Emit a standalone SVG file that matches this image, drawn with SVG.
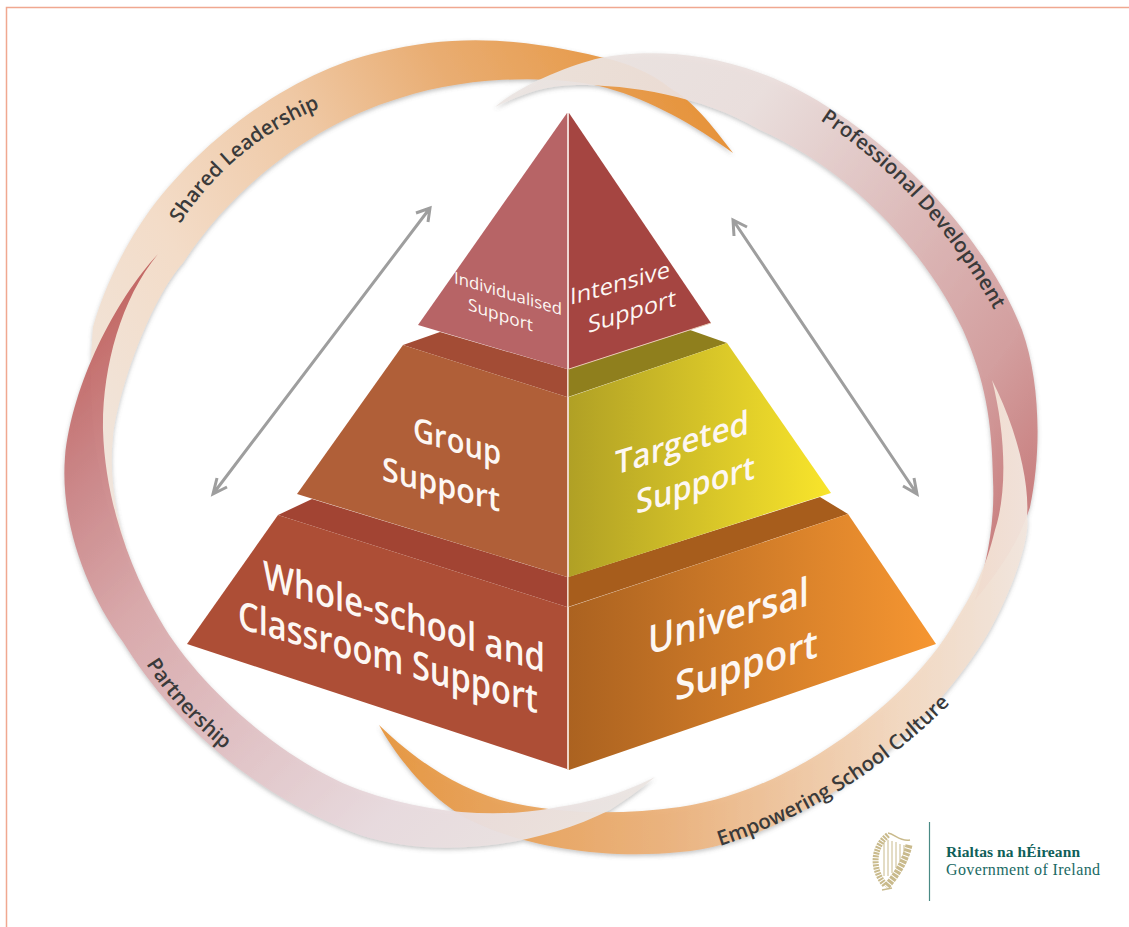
<svg xmlns="http://www.w3.org/2000/svg" xmlns:xlink="http://www.w3.org/1999/xlink" width="1129" height="927" viewBox="0 0 1129 927">
<style>
.rim{font-family:"Open Sans","Noto Sans",sans-serif;font-size:20.500px;font-weight:600;fill:#3a3a3a}
.pt{font-family:"Open Sans","Noto Sans",sans-serif;fill:#fdf7f3;font-weight:600}
.thin{font-weight:500}
.arrow{fill:none;stroke:#9e9e9e;stroke-width:3}
.harp{fill:none;stroke:#c9ba8c}
</style>
<defs>
<filter id="sh" x="-5%" y="-5%" width="110%" height="110%"><feDropShadow dx="0" dy="2" stdDeviation="2" flood-color="#666" flood-opacity=".4"/></filter>
<linearGradient id="gA" gradientUnits="userSpaceOnUse" x1="733" y1="153" x2="110" y2="500"><stop offset="0" stop-color="#e6933a"/><stop offset=".3" stop-color="#e9ad72"/><stop offset=".5" stop-color="#efc8a4"/><stop offset=".75" stop-color="#f3dcc8"/><stop offset="1" stop-color="#f0e5dc"/></linearGradient>
<linearGradient id="gB" gradientUnits="userSpaceOnUse" x1="158" y1="254" x2="655" y2="777"><stop offset="0" stop-color="#c0625f"/><stop offset=".16" stop-color="#cb8587"/><stop offset=".34" stop-color="#d9a8aa"/><stop offset=".78" stop-color="#e8dade"/><stop offset="1" stop-color="#ebe5e2"/></linearGradient>
<linearGradient id="gC" gradientUnits="userSpaceOnUse" x1="495" y1="107" x2="1030" y2="500"><stop offset="0" stop-color="#ebe5e2"/><stop offset=".31" stop-color="#ebdfdd"/><stop offset=".83" stop-color="#d39c9c"/><stop offset="1" stop-color="#c87a7a"/></linearGradient>
<linearGradient id="gD" gradientUnits="userSpaceOnUse" x1="379" y1="0" x2="1030" y2="0"><stop offset="0" stop-color="#e6953c"/><stop offset=".45" stop-color="#ebb27c"/><stop offset=".8" stop-color="#f3d8c0"/><stop offset="1" stop-color="#f2e6de"/></linearGradient>
<linearGradient id="gY" gradientUnits="userSpaceOnUse" x1="568" y1="0" x2="831" y2="0"><stop offset="0" stop-color="#b0a025"/><stop offset="1" stop-color="#f9e52b"/></linearGradient>
<linearGradient id="gO" gradientUnits="userSpaceOnUse" x1="568" y1="0" x2="936" y2="0"><stop offset="0" stop-color="#ab6220"/><stop offset="1" stop-color="#f69631"/></linearGradient>
<path id="p1" d="M180,224 Q235,140 330,104"/>
<path id="p2" d="M820,120 Q935,195 1005,330"/>
<path id="p3" d="M146,664 Q178,714 232,756"/>
<path id="p4" d="M720,846 Q860,800 965,688"/>
</defs>
<rect width="1129" height="927" fill="#fff"/>
<path d="M6.500,927V7.500H1129" fill="none" stroke="#f0a890" stroke-width="1.500"/>
<g id="ribbons" filter="url(#sh)">
<path id="ribbon-a" fill="url(#gA)" d="M733,153 C712,125 692,100 670,88 C650,72 625,62 600,57 C530,40 460,32 380,52 C300,70 210,130 150,210 C125,245 105,285 93,327 C85,420 100,510 137,578 C118,530 108,480 113,437 C118,390 150,300 183,263 C230,190 310,125 400,98 C470,75 560,75 607,88 C650,100 695,125 733,153Z"/>
<path id="ribbon-c" fill="url(#gC)" fill-opacity=".93" d="M495,107 C520,85 570,65 600,58 C640,50 700,50 760,73 C850,105 975,210 1022,330 C1040,380 1042,450 1030,507 C1020,540 1000,570 975,600 C988,560 995,520 993,480 C992,420 985,380 963,330 C925,250 850,170 760,130 C700,95 630,85 577,85 C545,85 520,95 495,107Z"/>
<path id="ribbon-d" fill="url(#gD)" fill-opacity=".95" d="M379,725 C395,755 430,800 470,820 C520,845 600,860 680,852 C780,845 920,750 990,630 C1020,575 1030,530 1027,517 C1030,480 1015,425 992,380 C1005,430 1008,490 995,530 C985,570 975,590 950,630 C910,695 800,790 680,807 C620,815 560,815 500,800 C450,785 410,755 379,725Z"/>
<path id="ribbon-b" fill="url(#gB)" fill-opacity=".95" d="M158,254 C115,300 72,385 65,457 C60,520 85,590 123,642 C165,710 240,790 360,835 C430,858 530,850 610,810 C625,800 640,790 655,777 C620,795 590,802 553,808 C500,818 430,815 360,790 C290,765 200,690 160,620 C130,570 105,500 103,430 C102,370 120,300 158,254Z"/>
</g>
<g id="rim-labels">
<text class="rim"><textPath href="#p1" xlink:href="#p1">Shared Leadership</textPath></text>
<text class="rim"><textPath href="#p2" xlink:href="#p2">Professional Development</textPath></text>
<text class="rim"><textPath href="#p3" xlink:href="#p3">Partnership</textPath></text>
<text class="rim"><textPath href="#p4" xlink:href="#p4">Empowering School Culture</textPath></text>
</g>
<g id="connectors">
<path class="arrow" d="M430,208L213,494M416,213L430,208L428,222M217,478L213,494L227,487"/>
<path class="arrow" d="M733,220L917,494M747,227L733,220L734,236M914,478L917,494L903,486"/>
</g>
<g id="tier-bottom">
<path fill="#a24433" d="M278,515L312,499L567,577V607Z"/>
<path fill="#a75d1c" d="M568,607V577L820,497L848,514Z"/>
<path fill="#ad4e36" d="M278,515L567,607V769L187,644Z"/>
<path fill="url(#gO)" d="M569,607L848,514L936,644L569,770Z"/>
<path d="M568,577V770" stroke="#e9c9b4" stroke-width="1.500"/>
<text class="pt" font-size="39" textLength="282" lengthAdjust="spacingAndGlyphs" transform="matrix(1,.3,0,1,263,588)">Whole-school and</text>
<text class="pt" font-size="39" textLength="300" lengthAdjust="spacingAndGlyphs" transform="matrix(1,.285,0,1,238,628)">Classroom Support</text>
<text class="pt" font-size="40" textLength="161" lengthAdjust="spacingAndGlyphs" transform="matrix(1,-.31,0,1,648,655)">Universal</text>
<text class="pt" font-size="40" textLength="143" lengthAdjust="spacingAndGlyphs" transform="matrix(1,-.31,0,1,675,701)">Support</text>
</g>
<g id="tier-middle">
<path fill="#a34c35" d="M403,345L440,332L567,369V397Z"/>
<path fill="#8f7f1d" d="M568,397V369L690,330L727,343Z"/>
<path fill="#b05f38" d="M403,345L567,397V577L297,494Z"/>
<path fill="url(#gY)" d="M569,397L727,343L831,493L569,577Z"/>
<path d="M568,369V577" stroke="#e9c9b4" stroke-width="1.500"/>
<text class="pt" font-size="33" textLength="88" lengthAdjust="spacingAndGlyphs" transform="matrix(1,.29,0,1,413,440)">Group</text>
<text class="pt" font-size="33" textLength="118" lengthAdjust="spacingAndGlyphs" transform="matrix(1,.27,0,1,382,480)">Support</text>
<text class="pt" font-size="33" textLength="134" lengthAdjust="spacingAndGlyphs" transform="matrix(1,-.31,0,1,615,475)">Targeted</text>
<text class="pt" font-size="33" textLength="119" lengthAdjust="spacingAndGlyphs" transform="matrix(1,-.3,0,1,636,514)">Support</text>
</g>
<g id="tier-top">
<path fill="#b76466" d="M567,113V369L418,325Z"/>
<path fill="#a54541" d="M569,113L711,323L569,369Z"/>
<path d="M568,113V369" stroke="#e9c9c4" stroke-width="1.500"/>
<path d="M569,369L711,323" stroke="#e9c9b4" fill="none"/>
<text class="pt thin" font-size="16.500" textLength="108" lengthAdjust="spacingAndGlyphs" transform="matrix(1,.3,0,1,454,283)">Individualised</text>
<text class="pt thin" font-size="17" textLength="65" lengthAdjust="spacingAndGlyphs" transform="matrix(1,.33,0,1,468,310)">Support</text>
<text class="pt thin" font-size="23" textLength="100" lengthAdjust="spacingAndGlyphs" transform="matrix(1,-.28,0,1,570,305)">Intensive</text>
<text class="pt thin" font-size="23" textLength="88" lengthAdjust="spacingAndGlyphs" transform="matrix(1,-.31,0,1,588,333)">Support</text>
</g>
<g id="government-logo">
<g class="harp">
<path stroke-width="6" stroke-dasharray="2 1" d="M885,885C872,870 872,848 888,835"/>
<path stroke-width="1.500" d="M888,833C895,834 900,842 910,840"/>
<path stroke-width="7" stroke-dasharray="3 1" d="M909,845C905,862 896,876 886,887"/>
<path stroke-width="1.500" d="M882,890L892,888"/>
<path stroke-width="1" d="M884,842V876M888,840V876M892,841V873M896,842V868M900,844V862M904,845V855"/>
</g>
<path d="M929.500,822V901" stroke="#4a8a85" stroke-width="1.200"/>
<text x="946" y="857" textLength="134" font-family="'Liberation Serif',serif" font-size="15.500" font-weight="700" fill="#0f5f5a">Rialtas na hÉireann</text>
<text x="946" y="875" textLength="154" font-family="'Liberation Serif',serif" font-size="16" fill="#1a6a64">Government of Ireland</text>
</g>
</svg>
